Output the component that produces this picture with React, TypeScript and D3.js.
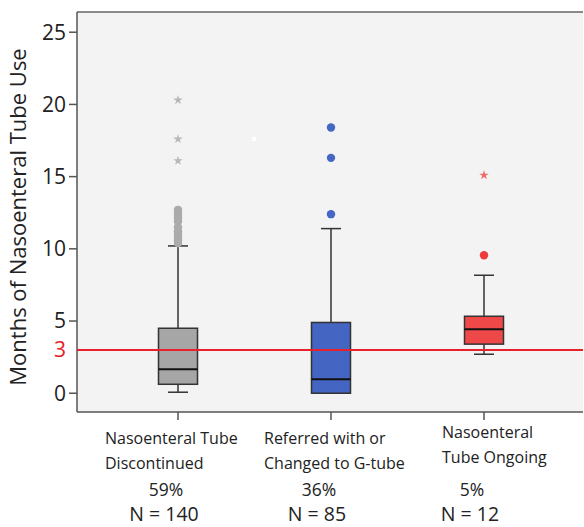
import React from "react";
import * as d3 from "d3";

const categories = ["Nasoenteral Tube Discontinued", "Referred with or Changed to G-tube", "Nasoenteral Tube Ongoing"];
const labelLines = [["Nasoenteral Tube", "Discontinued"], ["Referred with or", "Changed to G-tube"], ["Nasoenteral", "Tube Ongoing"]];
const percents = ["59%", "36%", "5%"];
const counts = ["N = 140", "N = 85", "N = 12"];
const whiskerLow = [0.07, 0.0, 2.7];
const q1 = [0.62, 0.0, 3.4];
const medians = [1.66, 0.97, 4.43];
const q3 = [4.5, 4.9, 5.33];
const whiskerHigh = [10.2, 11.4, 8.17];
const circleOutliers = [
  [10.4, 10.6, 10.8, 11.0, 11.2, 11.5, 11.9, 12.1, 12.3, 12.5, 12.7],
  [12.4, 16.3, 18.4],
  [9.56],
];
const starOutliers = [[16.1, 17.6, 20.3], [], [15.1]];
const yTicks = [0, 5, 10, 15, 20, 25];
const referenceValue = 3;

const fills = ["#a6a6a6", "#4565c2", "#ee4848"];
const outlierColors = ["#ababab", "#4466c4", "#ee3a3a"];
const starColors = ["#b8b8b8", "#b8b8b8", "#f06a6a"];

export default function App() {
  const W = 584, H = 527;
  const left = 77, right = 583, top = 12, bottom = 412;
  const y = d3.scaleLinear().domain([-1.3, 26.4]).range([bottom, top]);
  const x = d3.scalePoint<string>().domain(categories).range([178, 484]);
  const boxW = 39, capW = 20;
  const star = d3.symbol().type(d3.symbolStar).size(28);
  const font = "'Open Sans', sans-serif";
  const labelLeft = [105, 264, 442];
  const labelTop = [438, 438, 432];

  return (
    <svg width={W} height={H} style={{ position: "absolute", left: 0, top: 0, background: "#fff" }}>
      <rect x={left} y={top} width={right - left} height={bottom - top} fill="#f3f3f3" />
      <line x1={left} x2={right} y1={top} y2={top} stroke="#8a8a8a" strokeWidth={2} />
      <line x1={left} x2={left} y1={top} y2={bottom} stroke="#555" strokeWidth={1.5} />
      <line x1={left} x2={right} y1={bottom} y2={bottom} stroke="#555" strokeWidth={1.5} />
      {yTicks.map((t) => (
        <g key={t}>
          <line x1={left - 8} x2={left} y1={y(t)} y2={y(t)} stroke="#555" strokeWidth={1.5} />
          <text x={left - 11} y={y(t)} dy="0.35em" textAnchor="end" fontFamily={font} fontSize={21} fill="#222">{t}</text>
        </g>
      ))}
      <text x={left - 11} y={y(referenceValue)} dy="0.35em" textAnchor="end" fontFamily={font} fontSize={21} fill="#e8202a">{referenceValue}</text>
      <text transform={`translate(26,${(top + bottom) / 2 + 5}) rotate(-90)`} textAnchor="middle" fontFamily={font} fontSize={22} fill="#222">Months of Nasoenteral Tube Use</text>
      {categories.map((c, i) => {
        const cx = x(c)!;
        return (
          <g key={c}>
            <line x1={cx} x2={cx} y1={bottom} y2={bottom + 8} stroke="#555" strokeWidth={1.5} />
            <line x1={cx} x2={cx} y1={y(whiskerLow[i])} y2={y(q1[i])} stroke="#333" strokeWidth={1.5} />
            <line x1={cx} x2={cx} y1={y(q3[i])} y2={y(whiskerHigh[i])} stroke="#333" strokeWidth={1.5} />
            <line x1={cx - capW / 2} x2={cx + capW / 2} y1={y(whiskerLow[i])} y2={y(whiskerLow[i])} stroke="#333" strokeWidth={1.5} />
            <line x1={cx - capW / 2} x2={cx + capW / 2} y1={y(whiskerHigh[i])} y2={y(whiskerHigh[i])} stroke="#333" strokeWidth={1.5} />
            <rect x={cx - boxW / 2} y={y(q3[i])} width={boxW} height={y(q1[i]) - y(q3[i])} fill={fills[i]} stroke="#333" strokeWidth={1.5} />
            <line x1={cx - boxW / 2} x2={cx + boxW / 2} y1={y(medians[i])} y2={y(medians[i])} stroke="#111" strokeWidth={2} />
            {circleOutliers[i].map((v, j) => (
              <circle key={j} cx={cx} cy={y(v)} r={4.2} fill={outlierColors[i]} />
            ))}
            {starOutliers[i].map((v, j) => (
              <path key={j} d={star()!} transform={`translate(${cx},${y(v)})`} fill={starColors[i]} />
            ))}
            {labelLines[i].map((l, j) => (
              <text key={j} x={labelLeft[i]} y={labelTop[i] + j * 25} dy="0.35em" fontFamily={font} fontSize={16} fill="#222">{l}</text>
            ))}
            <text x={cx - 12} y={490} dy="0.35em" textAnchor="middle" fontFamily={font} fontSize={17.5} fill="#222">{percents[i]}</text>
            <text x={cx - 14} y={514} dy="0.35em" textAnchor="middle" fontFamily={font} fontSize={19.5} fill="#222">{counts[i]}</text>
          </g>
        );
      })}
      <rect x={252} y={y(17.6) - 2} width={4} height={4} fill="#fff" />
      <line x1={left} x2={right} y1={y(referenceValue)} y2={y(referenceValue)} stroke="#e8202a" strokeWidth={2} />
    </svg>
  );
}
